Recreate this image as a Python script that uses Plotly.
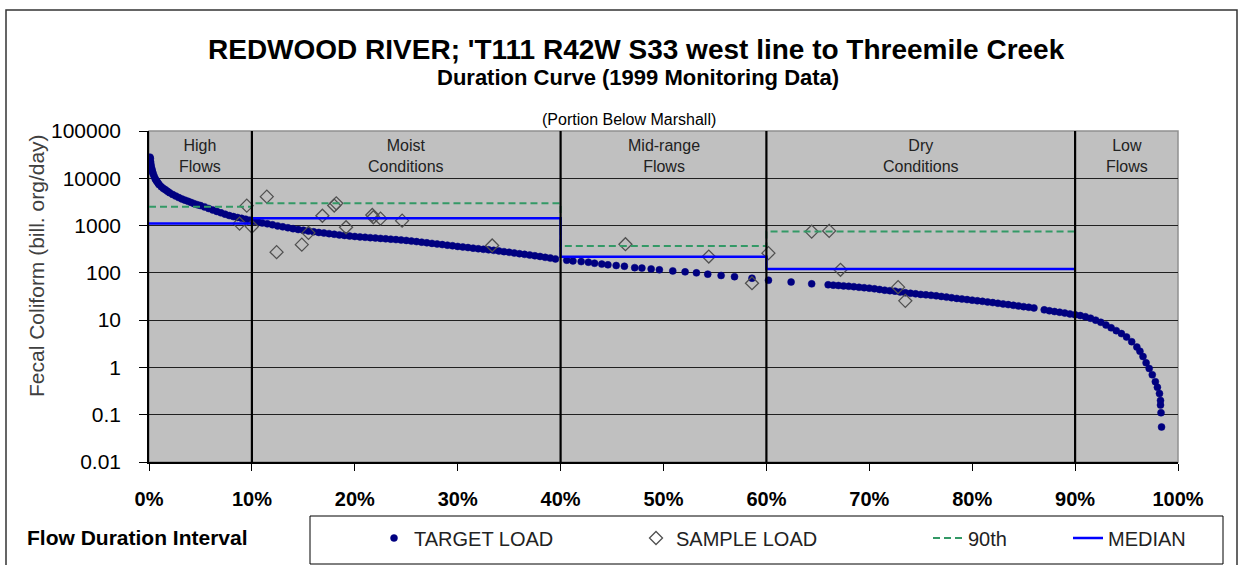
import plotly.graph_objects as go

# ---- Flow duration curve: target load (bill. org/day) by flow duration interval (%)
target_pct = [
    0.10, 0.13, 0.16, 0.20, 0.25, 0.30, 0.35, 0.40, 0.50, 0.60, 0.70, 0.80, 0.90, 1.0,
    1.2, 1.4, 1.6, 1.8, 2.0, 2.3, 2.6, 2.9, 3.2, 3.5, 3.8, 4.1, 4.4, 4.7, 5.0, 5.4,
    5.8, 6.2, 6.6, 7.0, 7.4, 7.8, 8.2, 8.6, 9.0, 9.4, 9.8, 10.2, 10.6, 11.0, 11.5,
    12.0, 12.5, 13.0, 13.5, 14.0, 14.5, 15.0, 15.5, 16.0, 16.5, 17.0, 17.5, 18.0,
    18.5, 19.0, 19.5, 20.0, 20.5, 21.0, 21.5, 22.0, 22.5, 23.0, 23.5, 24.0, 24.5,
    25.0, 25.5, 26.0, 26.5, 27.0, 27.5, 28.0, 28.5, 29.0, 29.5, 30.0, 30.5, 31.0,
    31.5, 32.0, 32.5, 33.0, 33.5, 34.0, 34.5, 35.0, 35.5, 36.0, 36.5, 37.0, 37.5,
    38.0, 38.5, 39.0, 39.5,
    40.6, 41.2, 42.0, 42.7, 43.3, 44.0, 44.6, 45.4, 46.2, 47.2, 47.9, 48.8, 49.6,
    50.9, 52.1, 53.2, 54.3, 55.6, 56.9, 58.6, 60.2, 62.4, 64.4,
    66.0, 66.5, 67.0, 67.5, 68.0, 68.5, 69.0, 69.5, 70.0, 70.5, 71.0, 71.5, 72.0,
    72.5, 73.0, 73.5, 74.0, 74.5, 75.0, 75.5, 76.0, 76.5, 77.0, 77.5, 78.0, 78.5,
    79.0, 79.5, 80.0, 80.5, 81.0, 81.5, 82.0, 82.5, 83.0, 83.5, 84.0, 84.5, 85.0,
    85.5, 86.0, 87.0, 87.5, 88.0, 88.5, 89.0, 89.5, 90.0, 90.5, 91.0, 91.5, 92.0,
    92.5, 93.0, 93.5, 94.0, 94.5, 95.0, 95.5, 96.0, 96.3, 96.6, 96.9, 97.2, 97.5,
    97.8, 98.0, 98.2, 98.3, 98.3, 98.35, 98.4,
]
target_load = [
    28000, 26000, 22000, 19000, 16500, 15000, 13500, 12500, 11000, 9800, 9000, 8400, 7800, 7300,
    6600, 6100, 5700, 5300, 4950, 4550, 4200, 3900, 3650, 3450, 3250, 3080, 2900, 2760, 2650, 2480,
    2300, 2130, 1990, 1860, 1740, 1630, 1550, 1480, 1420, 1360, 1300, 1240, 1190, 1140, 1090,
    1040, 985, 940, 900, 860, 825, 795, 765, 740, 715, 695, 675, 655,
    635, 618, 600, 588, 576, 565, 555, 545, 535, 525, 515, 505, 495,
    485, 470, 458, 445, 432, 420, 408, 396, 385, 374, 362, 352, 343,
    333, 324, 315, 307, 299, 291, 281, 272, 263, 254, 246, 238, 230,
    222, 213, 205, 197,
    185, 179, 173, 168, 160, 153, 148, 143, 138, 129, 126, 121, 116,
    110, 105, 100, 94, 88, 83, 77, 70, 64, 58.5,
    56, 55, 54, 53, 52, 51, 49.5, 48.5, 47.5, 46, 44.5, 43, 42,
    41, 39.5, 38, 37, 36, 35, 34.3, 33.5, 32.7, 31.7, 30.7, 29.8, 28.8,
    28, 27.2, 26.5, 25.7, 25, 24.2, 23.5, 22.7, 22, 21.3, 20.6, 20, 19.3,
    18.7, 18.1, 16.5, 15.8, 15.2, 14.7, 14.1, 13.5, 13.0, 12.5, 11.8, 11.0, 10.0,
    9.0, 7.9, 6.9, 6.0, 5.2, 4.4, 3.5, 2.7, 2.2, 1.7, 1.25, 0.95, 0.7,
    0.5, 0.38, 0.28, 0.2, 0.16, 0.11, 0.055,
]

# ---- 1999 monitoring samples
sample_pct = [8.8, 9.5, 10.0, 11.45, 12.4, 14.85, 15.5, 16.85, 18.0, 18.2, 19.15,
              21.7, 21.8, 22.5, 24.6, 33.35, 46.3, 54.4, 58.6, 60.2, 64.4, 66.1,
              67.2, 72.8, 73.5]
sample_load = [1100, 2640, 950, 4090, 274, 395, 700, 1610, 2650, 2950, 922,
               1680, 1500, 1400, 1270, 380, 404, 221, 60.5, 261, 745, 771,
               116, 49.9, 25.6]

# ---- Flow zones with their 90th percentile and median sample loads
zone_edges = [0, 10, 40, 60, 90, 100]
zone_names = ["High<br>Flows", "Moist<br>Conditions", "Mid-range<br>Flows",
              "Dry<br>Conditions", "Low<br>Flows"]
zone_90th = [2500, 2970, 372, 745]
zone_median = [1100, 1430, 218, 121]

y_ticks = [0.01, 0.1, 1, 10, 100, 1000, 10000, 100000]
y_tick_text = ["0.01", "0.1", "1", "10", "100", "1000", "10000", "100000"]
x_ticks = list(range(0, 101, 10))
x_tick_text = [f"{v}%" for v in x_ticks]

W, H = 1247, 565
PL, PR, PT, PB = 149, 1178, 131, 462


def fx(x):
    """pixel column -> paper x"""
    return (x - PL) / (PR - PL)


def fy(y):
    """pixel row -> paper y"""
    return (PB - y) / (PB - PT)


def steps(values):
    xs, ys = [], []
    for i, v in enumerate(values):
        xs += [zone_edges[i], zone_edges[i + 1]]
        ys += [v, v]
    return xs, ys


FONT = "Liberation Sans, Arial, sans-serif"

fig = go.Figure()

fig.add_trace(go.Scatter(
    x=target_pct, y=target_load, mode="markers", name="TARGET LOAD",
    marker=dict(symbol="circle", size=7, color="#000080",
                line=dict(width=0.5, color="#000080")),
    legend="legend",
))
fig.add_trace(go.Scatter(
    x=sample_pct, y=sample_load, mode="markers", name="SAMPLE LOAD",
    marker=dict(symbol="diamond-open", size=10, color="#505050",
                line=dict(width=1.3, color="#505050")),
    legend="legend2",
))
sx, sy = steps(zone_90th)
fig.add_trace(go.Scatter(
    x=sx, y=sy, mode="lines", name="90th",
    line=dict(color="#339966", width=2, dash="7px,4px"),
    legend="legend3",
))
mx, my = steps(zone_median)
fig.add_trace(go.Scatter(
    x=mx, y=my, mode="lines", name="MEDIAN",
    line=dict(color="#0000FF", width=2.5),
    legend="legend4",
))

shapes = []
# zone boundaries
for e in zone_edges[1:-1]:
    shapes.append(dict(type="line", xref="x", yref="paper", x0=e, x1=e, y0=0, y1=1,
                       line=dict(color="black", width=2.2), layer="above"))
# plot-area outline (top/right)
shapes.append(dict(type="rect", xref="paper", yref="paper", x0=0, x1=1, y0=0, y1=1,
                   line=dict(color="#909090", width=1.5), layer="below"))
# outer chart frame
shapes.append(dict(type="rect", xref="paper", yref="paper",
                   x0=fx(6), x1=fx(1237), y0=fy(585), y1=fy(10),
                   line=dict(color="#333333", width=1.5), layer="below"))
# legend box
shapes.append(dict(type="rect", xref="paper", yref="paper",
                   x0=fx(310), x1=fx(1223), y0=fy(564), y1=fy(516),
                   line=dict(color="black", width=1), fillcolor="white", layer="below"))

annotations = []
for i, name in enumerate(zone_names):
    mid = (zone_edges[i] + zone_edges[i + 1]) / 2
    annotations.append(dict(x=mid, xref="x", y=fy(156), yref="paper", text=name,
                            showarrow=False, font=dict(family=FONT, size=16, color="#222222"),
                            xanchor="center", yanchor="middle"))
annotations += [
    dict(x=fx(636), y=fy(50), xref="paper", yref="paper", showarrow=False,
         text="<b>REDWOOD RIVER; 'T111 R42W S33 west line to Threemile Creek</b>",
         font=dict(family=FONT, size=28, color="black"), xanchor="center", yanchor="middle"),
    dict(x=fx(638), y=fy(78), xref="paper", yref="paper", showarrow=False,
         text="<b>Duration Curve (1999 Monitoring Data)</b>",
         font=dict(family=FONT, size=22, color="black"), xanchor="center", yanchor="middle"),
    dict(x=fx(629), y=fy(119), xref="paper", yref="paper", showarrow=False,
         text="(Portion Below Marshall)",
         font=dict(family=FONT, size=16, color="black"), xanchor="center", yanchor="middle"),
    dict(x=fx(36), y=fy(266), xref="paper", yref="paper", showarrow=False,
         text="Fecal Coliform (bill. org/day)", textangle=-90,
         font=dict(family=FONT, size=21, color="#404040"), xanchor="center", yanchor="middle"),
    dict(x=fx(25), y=fy(537), xref="paper", yref="paper", showarrow=False,
         text="<b>Flow Duration Interval</b>",
         font=dict(family=FONT, size=21, color="black"), xanchor="left", yanchor="middle"),
]

leg_common = dict(orientation="h", yanchor="middle", y=fy(538), xanchor="left",
                  bgcolor="rgba(0,0,0,0)", borderwidth=0,
                  font=dict(family=FONT, size=20, color="#222222"))

fig.update_layout(
    width=W, height=H,
    margin=dict(l=PL, r=W - PR, t=PT, b=H - PB, autoexpand=False),
    paper_bgcolor="white", plot_bgcolor="#C0C0C0",
    font=dict(family=FONT),
    showlegend=True,
    legend=dict(x=fx(374), **leg_common),
    legend2=dict(x=fx(636), **leg_common),
    legend3=dict(x=fx(928), **leg_common),
    legend4=dict(x=fx(1068), **leg_common),
    shapes=shapes, annotations=annotations,
    xaxis=dict(range=[0, 100], tickvals=x_ticks, ticktext=x_tick_text,
               showgrid=False, zeroline=False, showline=True, linecolor="black", linewidth=1.5,
               ticks="outside", ticklen=7, tickcolor="black", ticklabelstandoff=11,
               tickfont=dict(family=FONT, size=20, color="black", weight="bold")),
    yaxis=dict(type="log", range=[-2, 5], tickvals=y_ticks, ticktext=y_tick_text,
               showgrid=True, gridcolor="#202020", gridwidth=1, zeroline=False,
               showline=True, linecolor="black", linewidth=1.5,
               ticks="outside", ticklen=8, tickcolor="black", ticklabelstandoff=14,
               tickfont=dict(family=FONT, size=21, color="black")),
)

fig.write_html("out.html")
